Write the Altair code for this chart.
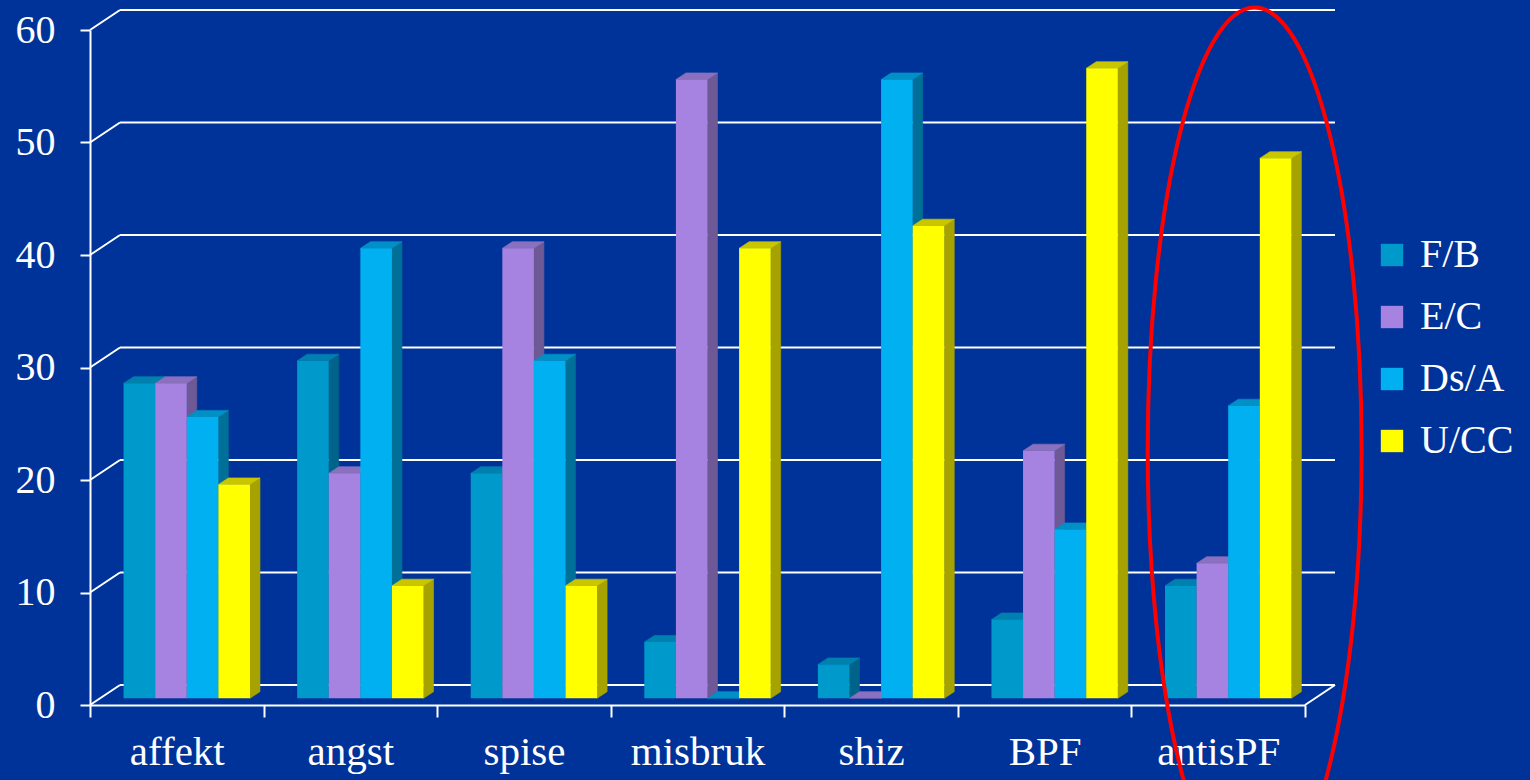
import altair as alt
import pandas as pd

# ---- data ----
categories = ["affekt", "angst", "spise", "misbruk", "shiz", "BPF", "antisPF"]
series = ["F/B", "E/C", "Ds/A", "U/CC"]
fb_values = [28, 30, 20, 5, 3, 7, 10]
ec_values = [28, 20, 40, 55, 0, 22, 12]
dsa_values = [25, 40, 30, 0, 55, 15, 26]
ucc_values = [19, 10, 10, 40, 42, 56, 48]
y_ticks = [0, 10, 20, 30, 40, 50, 60]
highlight = "antisPF"

# ---- styles ----
front_colors = ["#0099CC", "#A683E0", "#00B0F0", "#FFFF00"]
side_colors = ["#00638A", "#6C5996", "#007099", "#A6A300"]
top_colors = ["#0080AE", "#8A70BE", "#0090C6", "#C9C600"]
BG = "#003399"
FONT = "Liberation Serif"

W, H = 1215, 675
UX = len(categories) / W        # x data units per pixel
UY = 60 / H                     # y data units per pixel
BX, BY = 30 * UX, 20 * UY       # back-wall depth offset
DX, DY = 10 * UX, 6.67 * UY     # bar depth offset
BW = 31.6 * UX                  # bar width

values_by_series = [fb_values, ec_values, dsa_values, ucc_values]

front_rows, side_rows, top_rows = [], [], []
for i, cat in enumerate(categories):
    for j, s in enumerate(series):
        v = values_by_series[j][i]
        bid = f"{cat}-{s}"
        xl = i + DX - 2 * BW + j * BW
        xr = xl + BW
        y0, y1 = DY, v + DY
        front_rows.append(dict(bar=bid, series=s, x=xl, x2=xr, y=y0, y2=y1))
        sc, tc = side_colors[j], top_colors[j]
        side_rows += [
            dict(bar=bid, c=sc, x=xr, y=y1, y2=y0),
            dict(bar=bid, c=sc, x=xr + DX, y=y1 + DY, y2=y0 + DY),
        ]
        top_rows += [
            dict(bar=bid, c=tc, x=xl, y=y1, y2=y1),
            dict(bar=bid, c=tc, x=xl + DX, y=y1 + DY, y2=y1),
            dict(bar=bid, c=tc, x=xr, y=y1 + DY, y2=y1),
            dict(bar=bid, c=tc, x=xr + DX, y=y1 + DY, y2=y1 + DY),
        ]

front_df = pd.DataFrame(front_rows)
side_df = pd.DataFrame(side_rows)
top_df = pd.DataFrame(top_rows)

x0, x1 = -0.5, len(categories) - 0.5
grid_df = pd.DataFrame([dict(x=x0 + BX, x2=x1 + BX, y=t + BY) for t in y_ticks])
diag_df = pd.DataFrame([dict(x=x0, x2=x0 + BX, y=t, y2=t + BY) for t in y_ticks]
                       + [dict(x=x1, x2=x1 + BX, y=0, y2=BY)])

xscale = alt.Scale(domain=[x0, x1], nice=False, zero=False)
yscale = alt.Scale(domain=[y_ticks[0], y_ticks[-1]], nice=False, zero=False)

cats_js = "[" + ",".join(f"'{c}'" for c in categories) + "]"
x_values = [k / 2 for k in range(-1, 2 * len(categories))]
X_AX = alt.Axis(
    values=x_values, title=None, grid=False,
    labelExpr=f"datum.value % 1 === 0 ? {cats_js}[datum.value] : ''",
    tickOpacity={"condition": {"test": "datum.value % 1 !== 0", "value": 1}, "value": 0},
    tickSize=12, tickWidth=2, tickColor="white",
    domainColor="white", domainWidth=2,
    labelColor="white", labelFont=FONT, labelFontSize=41, labelPadding=15,
    labelFlush=False, labelOverlap=False, labelBound=False,
)
Y_AX = alt.Axis(
    values=y_ticks, title=None, grid=False,
    tickSize=10, tickWidth=2, tickColor="white",
    domainColor="white", domainWidth=2,
    labelColor="white", labelFont=FONT, labelFontSize=40, labelPadding=25,
    labelFlush=False, labelOverlap=False,
)

X = alt.X("x:Q", scale=xscale, axis=X_AX)
Y = alt.Y("y:Q", scale=yscale, axis=Y_AX)

grid = alt.Chart(grid_df).mark_rule(color="white", strokeWidth=2).encode(
    x=X, x2="x2:Q", y=Y)
diag = alt.Chart(diag_df).mark_rule(color="white", strokeWidth=2).encode(
    x=X, x2="x2:Q", y=Y, y2="y2:Q")

side = alt.Chart(side_df).mark_area(orient="vertical", strokeWidth=0.6).encode(
    x=X, y=Y, y2="y2:Q", detail="bar:N",
    fill=alt.Fill("c:N", scale=None), stroke=alt.Stroke("c:N", scale=None))
top = alt.Chart(top_df).mark_area(orient="vertical", strokeWidth=0.6).encode(
    x=X, y=Y, y2="y2:Q", detail="bar:N",
    fill=alt.Fill("c:N", scale=None), stroke=alt.Stroke("c:N", scale=None))

front = alt.Chart(front_df).mark_rect().encode(
    x=X, x2="x2:Q", y=Y, y2="y2:Q",
    color=alt.Color("series:N", sort=series,
                    scale=alt.Scale(domain=series, range=front_colors),
                    legend=alt.Legend(
                        title=None, orient="none", legendX=1282, legendY=205,
                        symbolType="square", symbolSize=500, symbolStrokeWidth=0,
                        symbolOpacity=1,
                        labelFont=FONT, labelFontSize=40, labelColor="white",
                        labelOffset=8, rowPadding=22, padding=0,
                        labelLimit=300)),
)

# hand-drawn ellipse around the highlighted category
ell_df = pd.DataFrame([dict(x=categories.index(highlight) + 0.21, y=22.7)])
ellipse_path = "M -0.242 0 A 0.242 1 0 1 1 0.242 0 A 0.242 1 0 1 1 -0.242 0 Z"
ellipse = alt.Chart(ell_df).mark_point(
    shape=ellipse_path, size=884 ** 2, filled=False, stroke="#FF0000",
    strokeWidth=4, opacity=1).encode(x=X, y=Y)

chart = alt.layer(grid, diag, side, top, front, ellipse).properties(
    width=W, height=H,
    padding={"left": 90, "top": 30, "right": 225, "bottom": 75},
    autosize=alt.AutoSizeParams(type="none"),
).configure(background=BG).configure_view(stroke=None)

chart.save("out.html", embed_options={"renderer": "svg", "actions": False})
